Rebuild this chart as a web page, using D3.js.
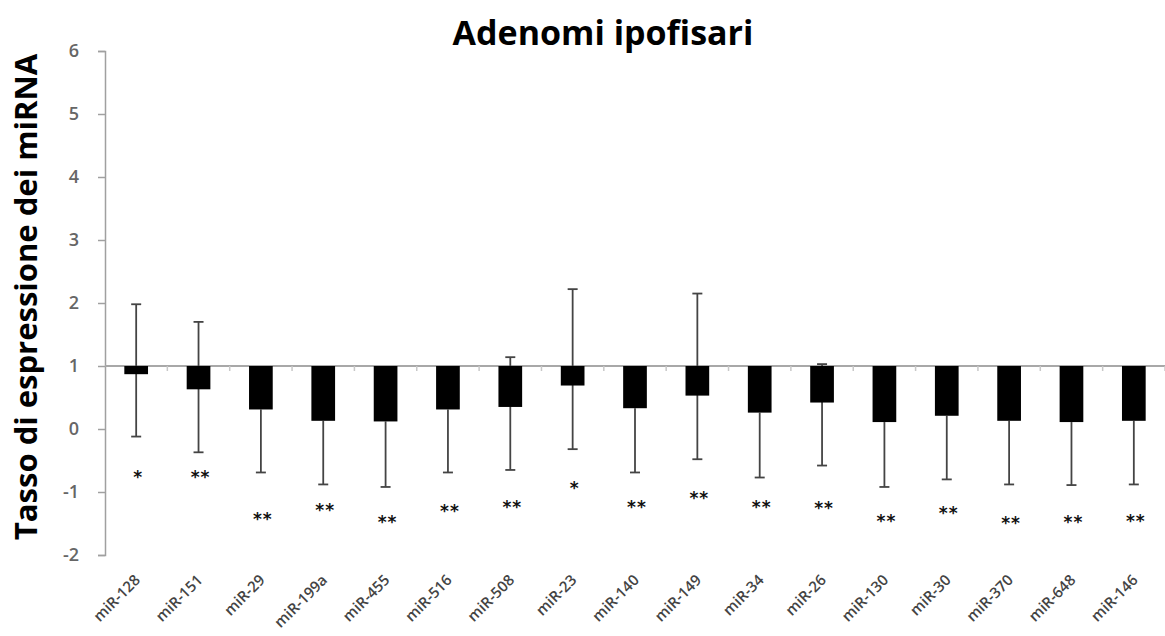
<!DOCTYPE html>
<html>
<head>
<meta charset="utf-8">
<script src="https://cdn.jsdelivr.net/npm/d3@7"></script>
<style>
  body { margin: 0; background: #fff; }
  svg { display: block; }
</style>
</head>
<body>
<div id="chart"></div>
<script>
// Data
const categories = ['miR-128', 'miR-151', 'miR-29', 'miR-199a', 'miR-455', 'miR-516', 'miR-508', 'miR-23', 'miR-140',
    'miR-149', 'miR-34', 'miR-26', 'miR-130', 'miR-30', 'miR-370', 'miR-648', 'miR-146'];
const values = [0.87, 0.63, 0.31, 0.13, 0.12, 0.31, 0.35, 0.69, 0.33, 0.53, 0.26, 0.42, 0.11, 0.21, 0.13, 0.11, 0.13];
const errUpper = [1.98, 1.70, null, null, null, null, 1.14, 2.22, null, 2.15, null, 1.03, null, null, null, null, null];
const errLower = [-0.12, -0.37, -0.69, -0.88, -0.92, -0.69, -0.65, -0.32, -0.69, -0.48, -0.77, -0.58, -0.92, -0.80, -0.88, -0.89, -0.88];
const stars = ['*', '**', '**', '**', '**', '**', '**', '*', '**', '**', '**', '**', '**', '**', '**', '**', '**'];
const starLevel = [-0.68, -0.68, -1.35, -1.21, -1.40, -1.22, -1.16, -0.85, -1.16, -1.01, -1.16, -1.18, -1.38, -1.25, -1.42, -1.40, -1.38];
const yTicks = [-2, -1, 0, 1, 2, 3, 4, 5, 6];
const baseValue = 1;

const W = 1165, H = 636;
const margin = { top: 51, right: 0, bottom: 81, left: 105 };

const svg = d3.select('#chart')
    .append('svg')
    .attr('width', W)
    .attr('height', H);

// Scales
const x = d3.scaleBand()
    .domain(categories)
    .range([margin.left, W - margin.right])
    .paddingInner(0.62)
    .paddingOuter(0.31);

const y = d3.scaleLinear()
    .domain([-2, 6])
    .range([H - margin.bottom, margin.top]);

// Title
svg.append('text')
    .attr('x', 603)
    .attr('y', 45)
    .attr('text-anchor', 'middle')
    .style('font-family', '"Open Sans", sans-serif')
    .style('font-weight', 'bold')
    .style('font-size', '34px')
    .style('fill', '#000')
    .text('Adenomi ipofisari');

// Y axis label
svg.append('text')
    .attr('transform', `translate(37, 297) rotate(-90)`)
    .attr('text-anchor', 'middle')
    .style('font-family', '"Open Sans", sans-serif')
    .style('font-weight', 'bold')
    .style('font-size', '31px')
    .style('fill', '#000')
    .text('Tasso di espressione dei miRNA');

// Y axis
const yAxis = svg.append('g')
    .attr('transform', `translate(${margin.left},0)`)
    .call(d3.axisLeft(y)
        .tickValues(yTicks)
        .tickSize(7)
        .tickPadding(19)
        .tickFormat(d => String(d)));

yAxis.select('.domain').attr('stroke', '#a0a0a0').attr('stroke-width', 1.5);
yAxis.selectAll('.tick line').attr('stroke', '#a0a0a0').attr('stroke-width', 1.5);
yAxis.selectAll('.tick text')
    .style('font-family', '"Open Sans", sans-serif')
    .style('font-size', '18px')
    .style('font-weight', '600')
    .style('fill', '#666');

// Baseline at 1 with small ticks between categories
svg.append('line')
    .attr('x1', margin.left)
    .attr('x2', W - margin.right)
    .attr('y1', y(baseValue))
    .attr('y2', y(baseValue))
    .attr('stroke', '#a8a8a8')
    .attr('stroke-width', 2);

svg.append('g')
    .selectAll('line')
    .data(d3.range(1, categories.length + 1))
    .enter()
    .append('line')
    .attr('x1', k => margin.left + k * x.step())
    .attr('x2', k => margin.left + k * x.step())
    .attr('y1', y(baseValue))
    .attr('y2', y(baseValue) + 5)
    .attr('stroke', '#c8c8c8')
    .attr('stroke-width', 1.5);

// Error bars
const errG = svg.append('g')
    .attr('stroke', '#444')
    .attr('stroke-width', 1.8);

const capW = 5;
categories.forEach((c, i) => {
    const cx = x(c) + x.bandwidth() / 2;
    const top = errUpper[i] !== null ? errUpper[i] : values[i];
    errG.append('line')
        .attr('x1', cx).attr('x2', cx)
        .attr('y1', y(top))
        .attr('y2', y(errLower[i]));
    errG.append('line')
        .attr('x1', cx - capW).attr('x2', cx + capW)
        .attr('y1', y(errLower[i])).attr('y2', y(errLower[i]));
    if (errUpper[i] !== null) {
        errG.append('line')
            .attr('x1', cx - capW).attr('x2', cx + capW)
            .attr('y1', y(errUpper[i])).attr('y2', y(errUpper[i]));
    }
});

// Bars hanging from the baseline (1), over the error bar stems
svg.append('g')
    .selectAll('rect')
    .data(values)
    .enter()
    .append('rect')
    .attr('x', (d, i) => x(categories[i]))
    .attr('y', y(baseValue))
    .attr('width', x.bandwidth())
    .attr('height', d => y(d) - y(baseValue))
    .attr('fill', '#000');

// Significance stars
svg.append('g')
    .selectAll('text')
    .data(stars)
    .enter()
    .append('text')
    .attr('x', (d, i) => x(categories[i]) + x.bandwidth() / 2 + 2)
    .attr('y', (d, i) => y(starLevel[i]) + 11)
    .attr('text-anchor', 'middle')
    .style('font-family', '"DejaVu Sans", sans-serif')
    .style('font-weight', 'bold')
    .style('font-size', '17px')
    .style('letter-spacing', '1px')
    .style('fill', '#111')
    .text(d => d);

// X category labels, rotated
svg.append('g')
    .selectAll('text')
    .data(categories)
    .enter()
    .append('text')
    .attr('transform', d => `translate(${x(d) + x.bandwidth() / 2 + 5}, 581) rotate(-45)`)
    .attr('text-anchor', 'end')
    .style('font-family', '"Open Sans", sans-serif')
    .style('font-size', '15px')
    .style('font-weight', '600')
    .style('fill', '#444')
    .text(d => d);
</script>
</body>
</html>
